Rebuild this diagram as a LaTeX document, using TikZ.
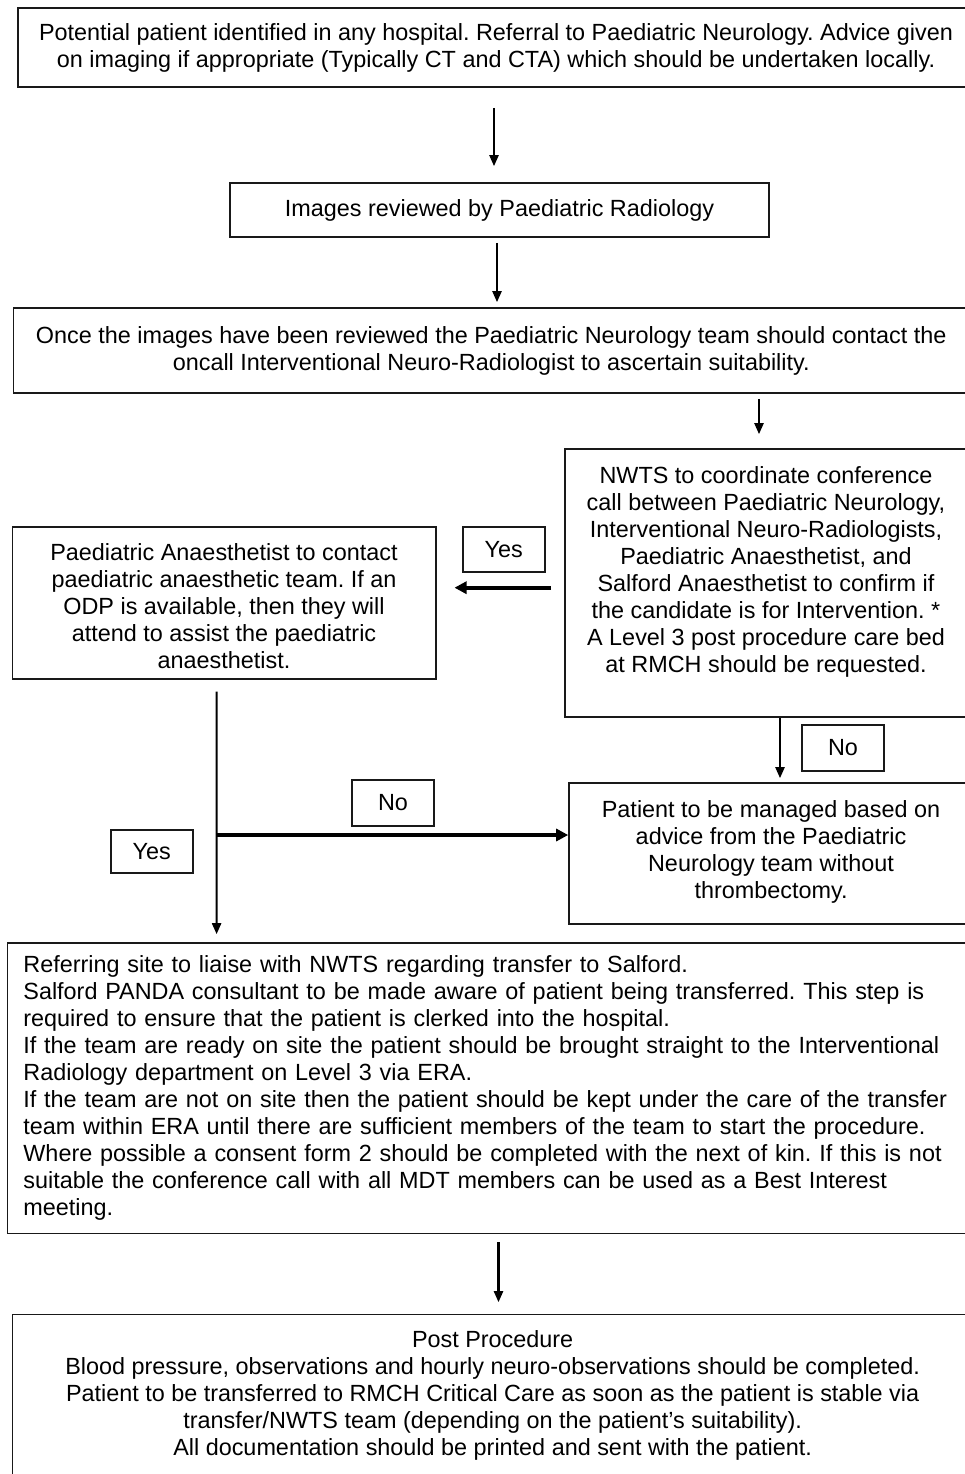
\documentclass[tikz,border=0pt]{standalone}
\usepackage{fontspec}
\setmainfont{Liberation Sans}
\usetikzlibrary{arrows.meta}
\begin{document}
\frenchspacing
\begin{tikzpicture}[x=1pt,y=-1pt,
  flowbox/.style={draw=black!90, line width=1.6pt, rectangle, inner sep=0pt, align=center, font=\fontsize{23.4}{27}\selectfont\frenchspacing},
  tagbox/.style={draw=black!90, line width=1.6pt, rectangle, inner sep=0pt, minimum width=82pt, font=\fontsize{23.4}{27}\selectfont},
  arr/.style={line width=2.2pt, -{Triangle[length=11pt,width=9pt]}},
  thickarr/.style={line width=3.6pt, -{Triangle[length=12pt,width=12pt]}}
]
\useasboundingbox (0,0) rectangle (965,1474);
\fill[white] (0,0) rectangle (965,1474);
\clip (0,0) rectangle (965,1474);

\node[flowbox, minimum width=956pt, minimum height=79pt] (b1) at (496,47.5)
  {Potential patient identified in any hospital. Referral to Paediatric Neurology. Advice given\\
   on imaging if appropriate (Typically CT and CTA) which should be undertaken locally.};

\node[flowbox, minimum width=539pt, minimum height=54pt] (b2) at (499.5,210)
  {Images reviewed by Paediatric Radiology};

\node[flowbox, minimum width=955.5pt, minimum height=85pt] (b3) at (491.25,350.5)
  {Once the images have been reviewed the Paediatric Neurology team should contact the\\
   oncall Interventional Neuro-Radiologist to ascertain suitability.};

\node[flowbox, minimum width=402pt, minimum height=268pt] (nwts) at (766,583)
  {NWTS to coordinate conference\\
   call between Paediatric Neurology,\\
   Interventional Neuro-Radiologists,\\
   Paediatric Anaesthetist, and\\
   Salford Anaesthetist to confirm if\\
   the candidate is for Intervention. *\\
   A Level 3 post procedure care bed\\
   at RMCH should be requested.\rule[-26pt]{0pt}{26pt}};

\node[flowbox, minimum width=423.4pt, minimum height=152pt] (an) at (224,602.7)
  {\rule{0pt}{24pt}Paediatric Anaesthetist to contact\\
   paediatric anaesthetic team. If an\\
   ODP is available, then they will\\
   attend to assist the paediatric\\
   anaesthetist.};

\node[flowbox, minimum width=404pt, minimum height=141pt] (pat) at (771,853.5)
  {Patient to be managed based on\\
   advice from the Paediatric\\
   Neurology team without\\
   thrombectomy.\rule[-8pt]{0pt}{8pt}};

\node[flowbox, align=left, inner xsep=16pt, text width=935.6pt, minimum width=967.6pt, minimum height=290.6pt] (ref) at (491.2,1088.3)
  {Referring site to liaise with NWTS regarding transfer to Salford.\\
   Salford PANDA consultant to be made aware of patient being transferred. This step is\\
   required to ensure that the patient is clerked into the hospital.\\
   If the team are ready on site the patient should be brought straight to the Interventional\\
   Radiology department on Level 3 via ERA.\\
   If the team are not on site then the patient should be kept under the care of the transfer\\
   team within ERA until there are sufficient members of the team to start the procedure.\\
   Where possible a consent form 2 should be completed with the next of kin. If this is not\\
   suitable the conference call with all MDT members can be used as a Best Interest\\
   meeting.};

\node[flowbox, minimum width=960.7pt, minimum height=161pt] (post) at (492.65,1395)
  {Post Procedure\\
   Blood pressure, observations and hourly neuro-observations should be completed.\\
   Patient to be transferred to RMCH Critical Care as soon as the patient is stable via\\
   transfer/NWTS team (depending on the patient's suitability).\\
   All documentation should be printed and sent with the patient.};

\node[tagbox, minimum height=45pt] (yes1) at (503.7,549.4) {Yes};
\node[tagbox, minimum height=46pt] (no1) at (393,803) {No};
\node[tagbox, minimum height=43pt] (yes2) at (151.7,851.5) {Yes};
\node[tagbox, minimum height=46pt] (no2) at (843,748) {No};

\coordinate (j) at (216.6,835);

\draw[arr] ([xshift=-2pt,yshift=-20pt]b1.south) -- ([xshift=-5.5pt,yshift=16pt]b2.north);
\draw[arr] ([xshift=-2.5pt,yshift=-5pt]b2.south) -- ([xshift=5.75pt,yshift=5pt]b3.north);
\draw[arr] ([xshift=267.75pt,yshift=-5pt]b3.south) -- ([xshift=-7pt,yshift=14pt]nwts.north);
\draw[thickarr] ([xshift=-13pt,yshift=-4.7pt]nwts.west) -- ([xshift=18pt,yshift=15pt]an.east);
\draw[arr] ([xshift=-7.4pt,yshift=-12pt]an.south) -- ([xshift=-274.6pt,yshift=8pt]ref.north);
\draw[thickarr] (j) -- (j -| pat.west);
\draw[arr] ([xshift=14pt]nwts.south) -- ([xshift=9pt,yshift=4pt]pat.north);
\draw[arr] ([xshift=7.3pt,yshift=-8pt]ref.south) -- ([xshift=5.85pt,yshift=11.5pt]post.north);
\end{tikzpicture}
\end{document}
